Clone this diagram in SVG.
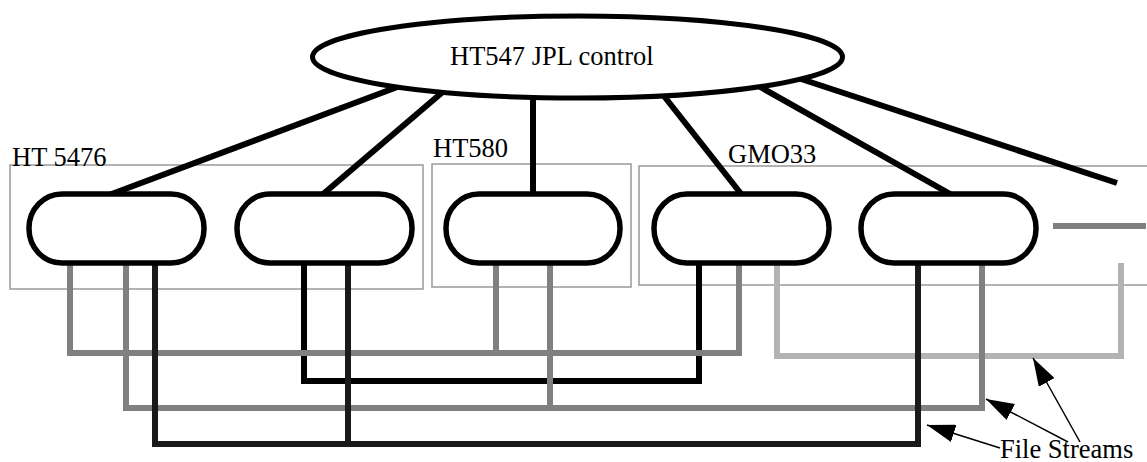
<svg xmlns="http://www.w3.org/2000/svg" width="1147" height="462" viewBox="0 0 1147 462">
<style>
.lbl{font-family:"Liberation Serif","Times New Roman",serif;font-size:26.5px;fill:#000}
.box{fill:none;stroke:#999;stroke-width:1.5}
.pill{fill:#fff;stroke:#000;stroke-width:5.5}
.ctl{stroke:#000;stroke-width:6;fill:none}
.s{fill:none;stroke-width:6;stroke-linejoin:miter;stroke-linecap:butt}
.arr{stroke:#000;stroke-width:1.5;fill:none;marker-end:url(#ah)}
</style>
<defs>
<marker id="ah" markerUnits="userSpaceOnUse" markerWidth="28" markerHeight="18" viewBox="0 0 28 18" refX="28" refY="9" orient="auto">
<path d="M0,0 L28,9 L0,18 z" fill="#000"/>
</marker>
</defs>
<rect width="1147" height="462" fill="#fff"/>
<g id="group-ht5476">
<rect class="box" x="10" y="165" width="413" height="124"/>
<text class="lbl" x="12" y="166">HT 5476</text>
</g>
<g id="group-ht580">
<rect class="box" x="432" y="164" width="199" height="123"/>
<text class="lbl" x="433" y="157">HT580</text>
</g>
<g id="group-gmo33">
<rect class="box" x="639" y="166" width="520" height="119"/>
<text class="lbl" x="728" y="163">GMO33</text>
</g>
<g id="connectors">
<line class="ctl" x1="400" y1="86" x2="109" y2="195"/>
<line class="ctl" x1="445" y1="90" x2="322" y2="195"/>
<line class="ctl" x1="533" y1="90" x2="533" y2="195"/>
<line class="ctl" x1="660" y1="91" x2="742" y2="195"/>
<line class="ctl" x1="755" y1="84" x2="952" y2="195"/>
<line class="ctl" x1="795" y1="77" x2="1117" y2="183"/>
<line x1="1053" y1="226" x2="1146" y2="226" stroke="#808080" stroke-width="6"/>
<path class="s" stroke="#b3b3b3" d="M777,263 V356 H1121 V263"/>
<path class="s" stroke="#000" d="M304,263 V381 H699 V263"/>
<path class="s" stroke="#808080" d="M70,263 V353 H739 V263 M496,263 V353"/>
<path class="s" stroke="#808080" d="M126,263 V408 H982 V263 M550,263 V408"/>
<path class="s" stroke="#1a1a1a" d="M155,263 V444 H918 V263 M348,263 V444"/>
<line class="arr" x1="1000" y1="448" x2="927" y2="425"/>
<line class="arr" x1="1068" y1="442" x2="986" y2="399"/>
<line class="arr" x1="1080" y1="442" x2="1033" y2="358"/>
</g>
<g id="ctrl">
<ellipse cx="577.5" cy="57" rx="265" ry="41" fill="#fff" stroke="#000" stroke-width="5"/>
<text class="lbl" x="450" y="65">HT547 JPL control</text>
</g>
<g id="pill1"><rect class="pill" x="29" y="194" width="175" height="69" rx="33" ry="34"/></g>
<g id="pill2"><rect class="pill" x="237" y="194" width="175" height="69" rx="33" ry="34"/></g>
<g id="pill3"><rect class="pill" x="446" y="194" width="174" height="69" rx="33" ry="34"/></g>
<g id="pill4"><rect class="pill" x="654" y="194" width="175" height="69" rx="33" ry="34"/></g>
<g id="pill5"><rect class="pill" x="861" y="194" width="175" height="69" rx="33" ry="34"/></g>
<text class="lbl" x="1000" y="458">File Streams</text>
</svg>
